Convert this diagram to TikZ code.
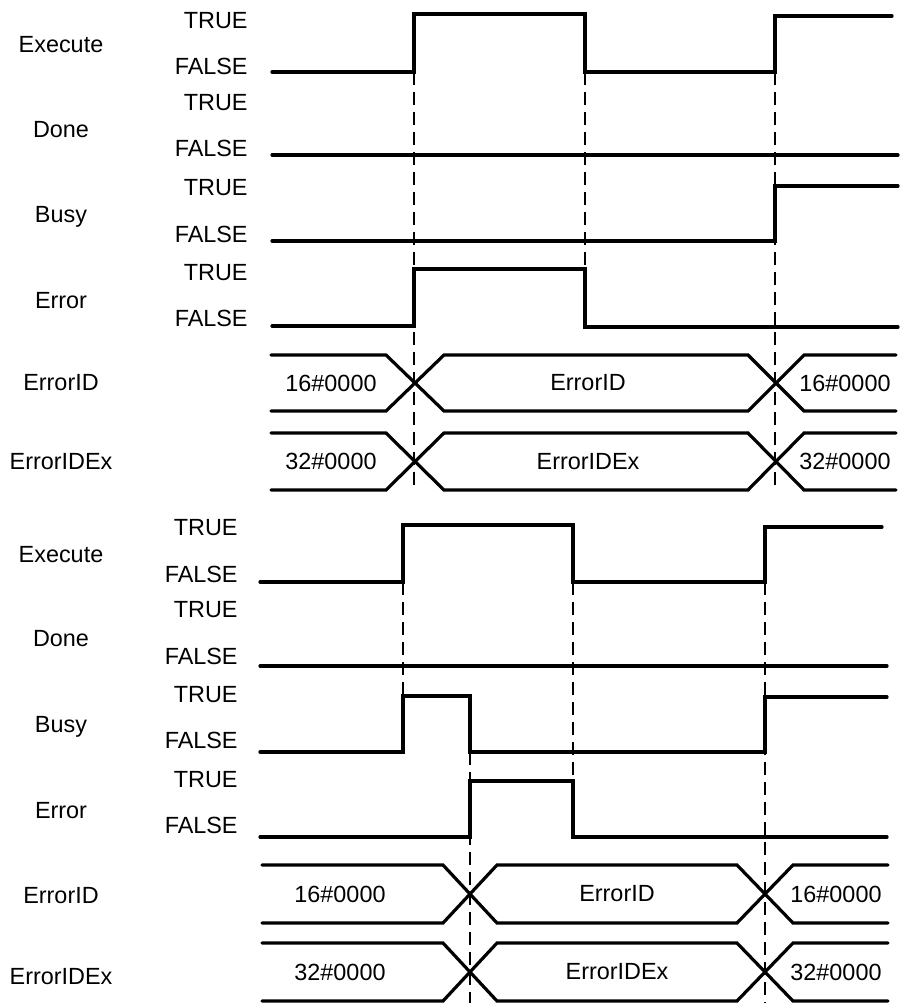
\documentclass[tikz,border=0pt]{standalone}
\usepackage{fontspec}
\setmainfont{Liberation Sans}
\tikzset{
  every picture/.style={font=\fontsize{11.7}{14}\selectfont, line cap=round},
  sig/.style={line width=1.6pt, line join=miter},
  guide/.style={line width=1pt, dash pattern=on 6.5pt off 3.5pt, line cap=butt},
  lvl/.style={anchor=base east, inner sep=0pt},
  sname/.style={anchor=base, inner sep=0pt},
  bustext/.style={inner sep=0pt},
}

\begin{document}
\begin{tikzpicture}[x=0.5pt,y=-0.5pt]
\useasboundingbox (0,0) rectangle (903,1003);
% upper chart
\foreach \s/\k/\yt/\yf/\yn in {Execute/exA/28/74/52,Done/doA/110/156/137,Busy/buA/195/242/222,Error/erA/280/326/308}{
  \node[sname] (\k) at (61,\yn) {\s};
  \node[lvl] (\k-t) at (248,\yt) {TRUE};
  \node[lvl] (\k-f) at (248,\yf) {FALSE};
}
\node[bustext] (idA) at (61,383) {ErrorID};
\node[bustext] (ixA) at (61,462) {ErrorIDEx};
\coordinate (tA1) at (414,72); \coordinate (tA2) at (585,72); \coordinate (tA3) at (775,72);
\coordinate (eA2) at (585,269);
\coordinate (bA1) at (414,490); \coordinate (bA3) at (775,490);
\draw[guide] (tA1) -- (bA1);
\draw[guide] (tA2) -- (eA2);
\draw[guide] (tA3) -- (bA3);
\draw[sig] (272,72) -- (tA1) -- (414,14) -- (585,14) -- (tA2) -- (tA3) -- (775,16) -- (892,16);
\draw[sig] (272,155) -- (898,155);
\draw[sig] (272,241) -- (775,241) -- (775,186) -- (898,186);
\draw[sig] (272,326) -- (414,326) -- (414,269) -- (eA2) -- (585,327) -- (898,327);
\foreach \k/\t/\b/\a/\m in {idA/355/411/16/ErrorID,ixA/433/490/32/ErrorIDEx}{
  \draw[sig] (271,\t) -- (386,\t) -- (444,\b) -- (748,\b) -- (804,\t) -- (896,\t);
  \draw[sig] (271,\b) -- (386,\b) -- (444,\t) -- (748,\t) -- (804,\b) -- (896,\b);
  \node[bustext] (\k-l) at (331,{(\t+\b)/2}) {\a\#0000};
  \node[bustext] (\k-m) at (588,{(\t+\b)/2}) {\m};
  \node[bustext] (\k-r) at (845,{(\t+\b)/2}) {\a\#0000};
}
% lower chart
\foreach \s/\k/\yt/\yf/\yn in {Execute/exB/535/582/562,Done/doB/617/664/646,Busy/buB/702/748/732,Error/erB/787/833/818}{
  \node[sname] (\k) at (61,\yn) {\s};
  \node[lvl] (\k-t) at (238,\yt) {TRUE};
  \node[lvl] (\k-f) at (238,\yf) {FALSE};
}
\node[bustext] (idB) at (61,896) {ErrorID};
\node[bustext] (ixB) at (61,977) {ErrorIDEx};
\coordinate (tB1) at (403,582); \coordinate (tB2) at (573,582); \coordinate (tB3) at (765,582);
\coordinate (uB1) at (403,696); \coordinate (uB2) at (470,752); \coordinate (eB2) at (573,781);
\coordinate (bB2) at (470,1003); \coordinate (bB3) at (765,1003);
\draw[guide] (tB1) -- (uB1);
\draw[guide] (uB2) -- (bB2);
\draw[guide] (tB2) -- (eB2);
\draw[guide] (tB3) -- (bB3);
\draw[sig] (260,582) -- (tB1) -- (403,525) -- (573,525) -- (tB2) -- (tB3) -- (765,527) -- (882,527);
\draw[sig] (260,666) -- (887,666);
\draw[sig] (260,752) -- (403,752) -- (uB1) -- (470,696) -- (uB2) -- (765,752) -- (765,697) -- (887,697);
\draw[sig] (260,837) -- (470,837) -- (470,781) -- (eB2) -- (573,837) -- (887,837);
\foreach \k/\t/\b/\a/\m in {idB/865/923/16/ErrorID,ixB/943/1001/32/ErrorIDEx}{
  \draw[sig] (262,\t) -- (443,\t) -- (497,\b) -- (737,\b) -- (793,\t) -- (888,\t);
  \draw[sig] (262,\b) -- (443,\b) -- (497,\t) -- (737,\t) -- (793,\b) -- (888,\b);
  \node[bustext] (\k-l) at (340,{(\t+\b)/2}) {\a\#0000};
  \node[bustext] (\k-m) at (617,{(\t+\b)/2}) {\m};
  \node[bustext] (\k-r) at (836,{(\t+\b)/2}) {\a\#0000};
}
\end{tikzpicture}
\end{document}
